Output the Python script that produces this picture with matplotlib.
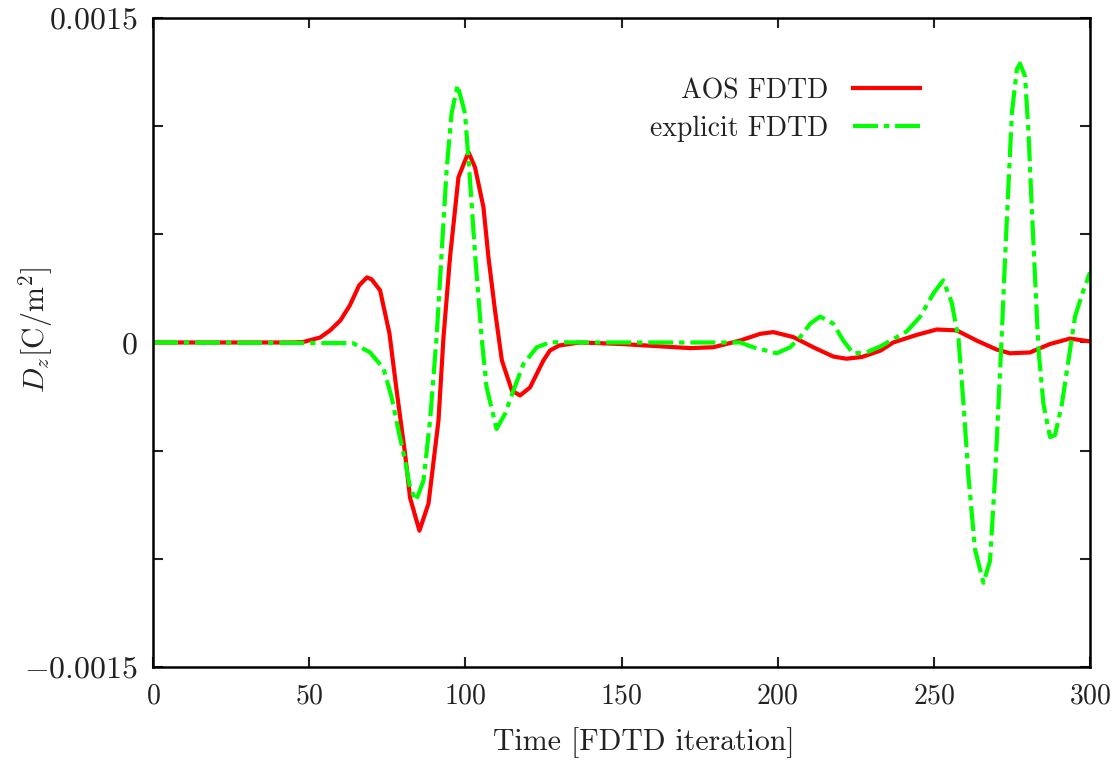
import numpy as np
import matplotlib
matplotlib.use("Agg")
import matplotlib.pyplot as plt

# Computer Modern look
plt.rcParams['font.family'] = 'cmr10'
plt.rcParams['mathtext.fontset'] = 'cm'
plt.rcParams['axes.formatter.use_mathtext'] = True

# AOS FDTD (red, solid)
t_aos = [0, 45, 48, 53.5, 56.7, 60, 63, 66, 68.5, 70, 72.7, 75.7, 78, 80.7, 82.3,
         85.3, 88.2, 91.4, 93, 95.1, 97.8, 101, 103.1, 105.8, 107.4, 109.5, 111.7,
         114.9, 117.5, 120.7, 125, 127.1, 130, 136.7, 150, 158, 172, 179.4, 188,
         194.4, 198.6, 205, 211.4, 217.8, 222, 227, 233, 237, 244.5, 250.9, 257.3,
         263.7, 270, 274.4, 280.8, 287.2, 293.6, 300]
d_aos = [0, 0, 2e-6, 2.3e-5, 5.6e-5, 1.02e-4, 1.71e-4, 2.64e-4, 3.01e-4, 2.92e-4,
         2.41e-4, 4.2e-5, -2.22e-4, -5.14e-4, -7.18e-4, -8.70e-4, -7.45e-4, -3.61e-4,
         2.3e-5, 3.94e-4, 7.64e-4, 8.80e-4, 8.10e-4, 6.25e-4, 3.94e-4, 1.48e-4,
         -8.3e-5, -2.22e-4, -2.45e-4, -2.08e-4, -8.3e-5, -3.7e-5, -1.4e-5, 0,
         -7e-6, -1.4e-5, -2.6e-5, -2.2e-5, 9e-6, 4.0e-5, 4.8e-5, 2.5e-5, -2.2e-5,
         -6.5e-5, -7.5e-5, -6.7e-5, -3.7e-5, 0, 3.5e-5, 6.0e-5, 5.6e-5, 9e-6,
         -3.2e-5, -5.0e-5, -4.6e-5, -7e-6, 1.8e-5, 5e-6]

# explicit FDTD (green, dash-dot)
t_exp = [0, 64, 69.5, 73.8, 76.4, 78.6, 80.7, 82.3, 84.2, 86.6, 88.7, 90.8, 92.4,
         94, 95.6, 97.5, 99.9, 101.5, 103.1, 105.2, 106.8, 110, 112.7, 115.4, 118.6,
         122.9, 127.1, 140, 160, 180, 188, 192.2, 199.7, 204, 207.2, 210.4, 213.6,
         217.8, 221, 224.2, 228.5, 232.8, 241.3, 245.6, 249.9, 253, 255.7, 257.9,
         259.5, 261.1, 263.2, 265.9, 268, 269.6, 270.7, 271.8, 272.8, 273.9, 275,
         276.6, 277.6, 279.2, 280.3, 281.3, 282.4, 283.5, 285.1, 287.2, 288.8, 291,
         293.1, 295.2, 297.4, 300]
d_exp = [0, -3e-6, -4.6e-5, -1.20e-4, -2.53e-4, -4.07e-4, -5.46e-4, -6.70e-4,
         -7.31e-4, -6.39e-4, -3.61e-4, 2.5e-5, 4.11e-4, 7.96e-4, 1.059e-3, 1.190e-3,
         1.059e-3, 7.50e-4, 4.11e-4, 2.5e-5, -2.07e-4, -4.00e-4, -3.30e-4, -2.22e-4,
         -9.9e-5, -2.2e-5, 1e-6, 0, 0, 0, 0, -2.2e-5, -5.0e-5, -2.2e-5, 2.5e-5,
         8.7e-5, 1.20e-4, 8.7e-5, 9e-6, -5.1e-5, -4.5e-5, -1.9e-5, 5.1e-5, 1.19e-4,
         2.28e-4, 2.87e-4, 1.86e-4, 1.8e-5, -2.85e-4, -6.22e-4, -9.58e-4, -1.111e-3,
         -1.009e-3, -6.22e-4, -2.85e-4, 5.1e-5, 3.89e-4, 7.25e-4, 1.062e-3, 1.264e-3,
         1.289e-3, 1.230e-3, 9.77e-4, 6.41e-4, 3.04e-4, -3.2e-5, -2.85e-4, -4.37e-4,
         -4.28e-4, -2.85e-4, -8.3e-5, 1.19e-4, 2.20e-4, 3.24e-4]

x_ticks = [0, 50, 100, 150, 200, 250, 300]
y_ticks = [-0.0015, -0.001, -0.0005, 0, 0.0005, 0.001, 0.0015]
y_ticklabels = [r'$-0.0015$', '', '', r'$0$', '', '', r'$0.0015$']

fig = plt.figure(figsize=(11.16, 7.76), dpi=100)
ax = fig.add_axes([0.1371, 0.1405, 0.8396, 0.8363])

ax.plot(t_aos, d_aos, color='#ff0000', lw=3.0, label='AOS FDTD', solid_joinstyle='round')
ax.plot(t_exp, d_exp, color='#00ff00', lw=3.0, linestyle=(0, (6, 1.4, 1.3, 1.4)),
        label='explicit FDTD')

ax.set_xlim(0, 300)
ax.set_ylim(-0.0015, 0.0015)
ax.set_xticks(x_ticks)
ax.set_xticklabels([r'$%d$' % v for v in x_ticks])
ax.set_yticks(y_ticks)
ax.set_yticklabels(y_ticklabels)

for s in ax.spines.values():
    s.set_linewidth(1.8)
ax.tick_params(direction='in', length=7, width=1.5, top=True, right=True,
               colors='#222222')
ax.tick_params(axis='y', pad=11, labelsize=23)
ax.tick_params(axis='x', pad=12, labelsize=20)

ax.set_xlabel('Time [FDTD iteration]', fontsize=21.5, color='#222222')
ax.set_ylabel(r'$D_z$[C/m$^2$]', fontsize=21.5, color='#222222')
ax.xaxis.set_label_coords(0.524, -0.092)
ax.xaxis.label.set_va('top')
ax.yaxis.set_label_coords(-0.105, 0.519)

leg = ax.legend(loc='upper right', bbox_to_anchor=(0.8186, 0.908), frameon=False,
                markerfirst=False, fontsize=20, handlelength=2.4, handletextpad=0.9,
                labelspacing=0.42, borderpad=0, borderaxespad=0)
for txt in leg.get_texts():
    txt.set_color('#222222')

fig.savefig('out.png', dpi=100)
